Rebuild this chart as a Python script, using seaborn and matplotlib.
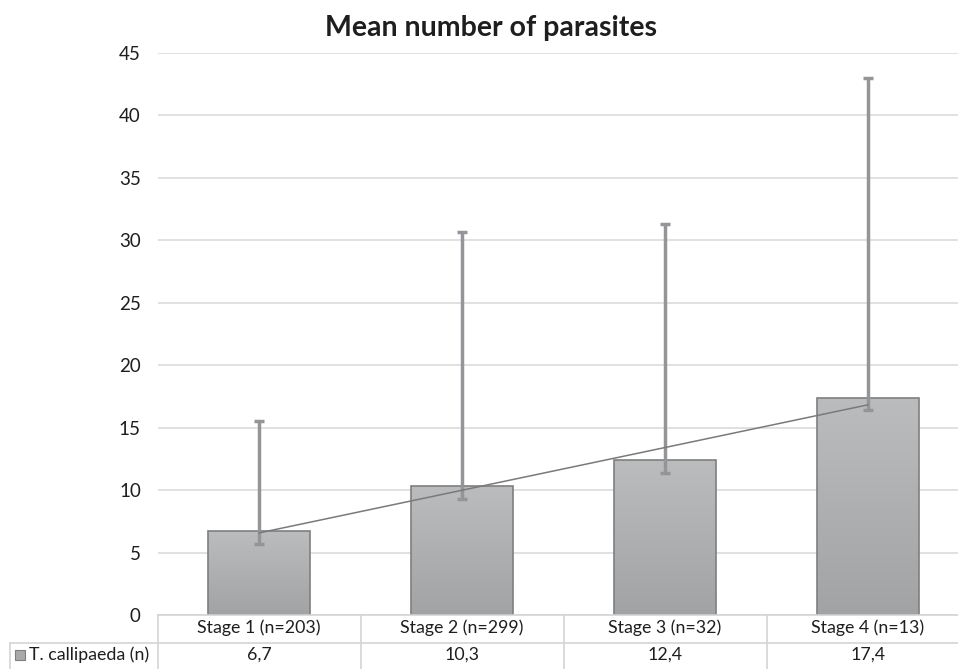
import numpy as np
import pandas as pd
import matplotlib
matplotlib.use("Agg")
import matplotlib.pyplot as plt
import matplotlib.transforms as mtransforms
from matplotlib.patches import Rectangle
import seaborn as sns

# values
stages = ["Stage 1 (n=203)", "Stage 2 (n=299)", "Stage 3 (n=32)", "Stage 4 (n=13)"]
means = [6.7, 10.3, 12.4, 17.4]
err_top = [15.5, 30.7, 31.3, 43.0]
err_bottom = [5.7, 9.3, 11.4, 16.4]
value_labels = ["6,7", "10,3", "12,4", "17,4"]
series_name = "T. callipaeda (n)"
yticks = [0, 5, 10, 15, 20, 25, 30, 35, 40, 45]

sns.set_theme(style="white")
plt.rcParams["font.family"] = ["Lato", "DejaVu Sans"]

W, H = 958, 669
fig = plt.figure(figsize=(W / 100, H / 100), dpi=100)
ax = fig.add_axes([157.5 / W, 54 / H, 812 / W, 562 / H])

df = pd.DataFrame({"stage": stages, "mean": means})
sns.barplot(data=df, x="stage", y="mean", width=0.5, color="#b0b1b3",
            saturation=1, edgecolor="#7f7f7f", linewidth=1.2, ax=ax)

# vertical gradient fill for each bar
grad = np.linspace(0, 1, 256).reshape(-1, 1)
cmap = matplotlib.colors.LinearSegmentedColormap.from_list(
    "bar", ["#a2a3a5", "#bbbcbe"])
for p in ax.patches:
    x0, y0 = p.get_x(), p.get_y()
    w, h = p.get_width(), p.get_height()
    im = ax.imshow(grad, cmap=cmap, aspect="auto", origin="lower",
                   extent=[x0, x0 + w, y0, y0 + h], zorder=0.8)
    im.set_clip_path(p)
    p.set_facecolor("none")
    p.set_zorder(1)

# error bars (asymmetric)
x = np.arange(len(means))
m = np.array(means)
yerr = [m - np.array(err_bottom), np.array(err_top) - m]
ax.errorbar(x, m, yerr=yerr, fmt="none", ecolor="#939598",
            elinewidth=2.5, capsize=3.8, capthick=2.5, zorder=2)

# linear trend line
slope, icpt = np.polyfit(x + 1, m, 1)
ax.plot(x, slope * (x + 1) + icpt, color="#7a7a7a", lw=1.1, zorder=3)

ax.set_xlim(-0.5, len(stages) - 0.5)
ax.set_ylim(0, 45)
ax.set_yticks(yticks)
ax.set_yticklabels([str(t) for t in yticks], fontsize=13.5, color="#1e1e1e")
ax.tick_params(axis="y", length=0, pad=12)
ax.set_xticks([])
ax.set_xlabel("")
ax.set_ylabel("")
ax.set_axisbelow(True)
ax.yaxis.grid(True, color="#d9d9d9", lw=1.1)
sns.despine(ax=ax, left=True, top=True, right=True)
ax.spines["bottom"].set_color("#d4d4d4")
ax.spines["bottom"].set_linewidth(1.2)

# data table beneath the axis
trans = mtransforms.blended_transform_factory(ax.transData, ax.transAxes)
row1 = -13 / 562
row2 = -40 / 562
mid = -28 / 562
line_kw = dict(color="#d4d4d4", lw=1.2, clip_on=False, transform=trans)
for i in range(len(stages) + 1):
    ax.plot([i - 0.5, i - 0.5], [0, -60 / 562], **line_kw)
for i, (s, v) in enumerate(zip(stages, value_labels)):
    ax.text(i, row1, s, transform=trans, ha="center", va="center",
            fontsize=12.8, color="#1e1e1e")
    ax.text(i, row2, v, transform=trans, ha="center", va="center",
            fontsize=12.8, color="#1e1e1e")

figpx = mtransforms.blended_transform_factory(
    mtransforms.Affine2D().scale(1 / W) + fig.transFigure, ax.transAxes)
ax.plot([10, W + 20], [mid, mid], **{**line_kw, "transform": figpx})
ax.plot([10, 10], [mid, -60 / 562], **{**line_kw, "transform": figpx})
ax.add_patch(Rectangle((15, row2 - 5 / 562), 10, 10 / 562, transform=figpx,
                       facecolor="#a8a9ab", edgecolor="#7f7f7f", lw=0.8,
                       clip_on=False))
ax.text(29, row2, series_name, transform=figpx, ha="left", va="center",
        fontsize=12.8, color="#1e1e1e")

fig.text(491 / W, 1 - 28 / H, "Mean number of parasites", ha="center",
         va="center", fontsize=20.5, fontweight="bold", color="#1e1e1e")

fig.savefig("out.png", dpi=100)
